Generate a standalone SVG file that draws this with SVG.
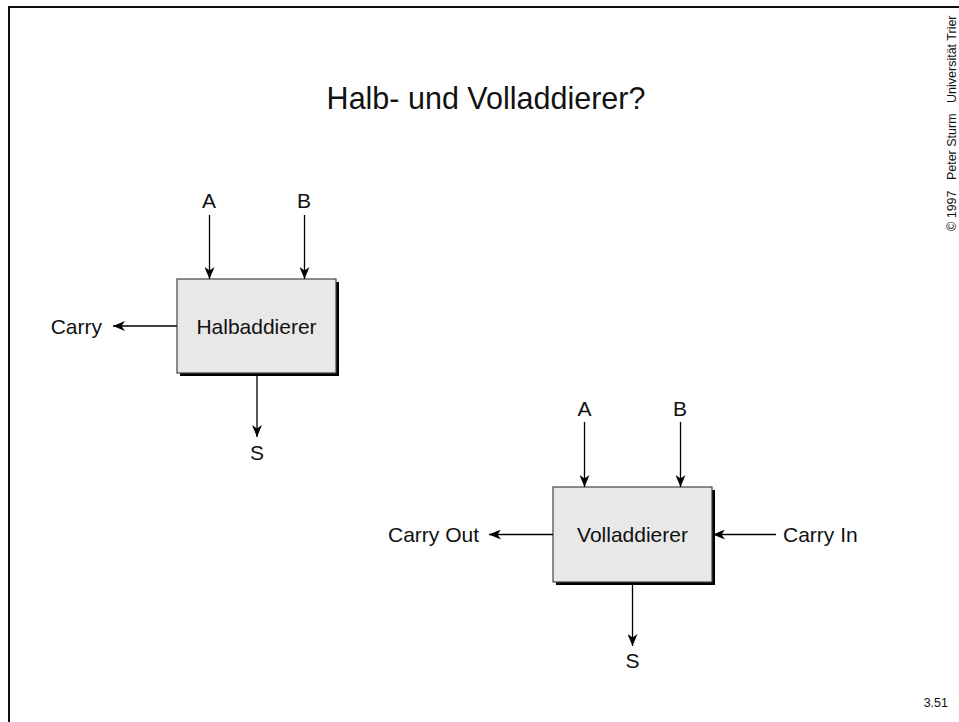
<svg xmlns="http://www.w3.org/2000/svg" width="959" height="722" viewBox="0 0 959 722">
  <defs>
    <marker id="arrow" viewBox="0 0 12 10" refX="12" refY="5" markerWidth="12" markerHeight="10" markerUnits="userSpaceOnUse" orient="auto">
      <path d="M0,0 L12,5 L0,10 L3.5,5 Z" fill="#000"/>
    </marker>
    <style>
      text { font-family: "Liberation Sans", Arial, sans-serif; fill: #111; }
      .lbl { font-size: 21px; }
      .title { font-size: 30.5px; }
      .small { font-size: 12.5px; }
      .box { fill: #e8e8e8; stroke: #444; stroke-width: 1.2; }
      .shadow { fill: #000; }
      .wire { stroke: #000; stroke-width: 1.3; fill: none; marker-end: url(#arrow); }
      .frame { stroke: #111; stroke-width: 2; fill: none; }
    </style>
  </defs>

  <rect width="959" height="722" fill="#fff"/>

  <!-- slide frame -->
  <path class="frame" d="M9,722 V7 H959"/>

  <text class="title" x="486" y="109" text-anchor="middle">Halb- und Volladdierer?</text>

  <text class="small" transform="translate(956,231) rotate(-90)" xml:space="preserve">© 1997   Peter Sturm   Universität Trier</text>
  <text class="small" x="948" y="707" text-anchor="end">3.51</text>

  <!-- half adder -->
  <g id="halbaddierer">
    <rect class="shadow" x="180" y="282" width="159" height="94"/>
    <rect class="box" x="177" y="279" width="159" height="94"/>
    <text class="lbl" x="256.5" y="334" text-anchor="middle">Halbaddierer</text>
  </g>
  <g id="ha-labels">
    <text class="lbl" x="209" y="208" text-anchor="middle">A</text>
    <text class="lbl" x="304" y="208" text-anchor="middle">B</text>
    <text class="lbl" x="102" y="334" text-anchor="end">Carry</text>
    <text class="lbl" x="257" y="460" text-anchor="middle">S</text>
  </g>

  <!-- full adder -->
  <g id="volladdierer">
    <rect class="shadow" x="556" y="490" width="159" height="95"/>
    <rect class="box" x="553" y="487" width="159" height="95"/>
    <text class="lbl" x="632.5" y="542" text-anchor="middle">Volladdierer</text>
  </g>
  <g id="va-labels">
    <text class="lbl" x="584.5" y="416" text-anchor="middle">A</text>
    <text class="lbl" x="680" y="416" text-anchor="middle">B</text>
    <text class="lbl" x="479" y="542" text-anchor="end">Carry Out</text>
    <text class="lbl" x="783" y="542">Carry In</text>
    <text class="lbl" x="632.5" y="668" text-anchor="middle">S</text>
  </g>

  <!-- connectors -->
  <g id="connectors">
    <line class="wire" x1="209.5" y1="215" x2="209.5" y2="279"/>
    <line class="wire" x1="304.5" y1="215" x2="304.5" y2="279"/>
    <line class="wire" x1="177" y1="326" x2="113" y2="326"/>
    <line class="wire" x1="257" y1="376" x2="257" y2="437"/>

    <line class="wire" x1="584.5" y1="422" x2="584.5" y2="487"/>
    <line class="wire" x1="680.5" y1="422" x2="680.5" y2="487"/>
    <line class="wire" x1="553" y1="534.5" x2="489" y2="534.5"/>
    <line class="wire" x1="776" y1="534.5" x2="713" y2="534.5"/>
    <line class="wire" x1="632.5" y1="585" x2="632.5" y2="646"/>
  </g>
</svg>
